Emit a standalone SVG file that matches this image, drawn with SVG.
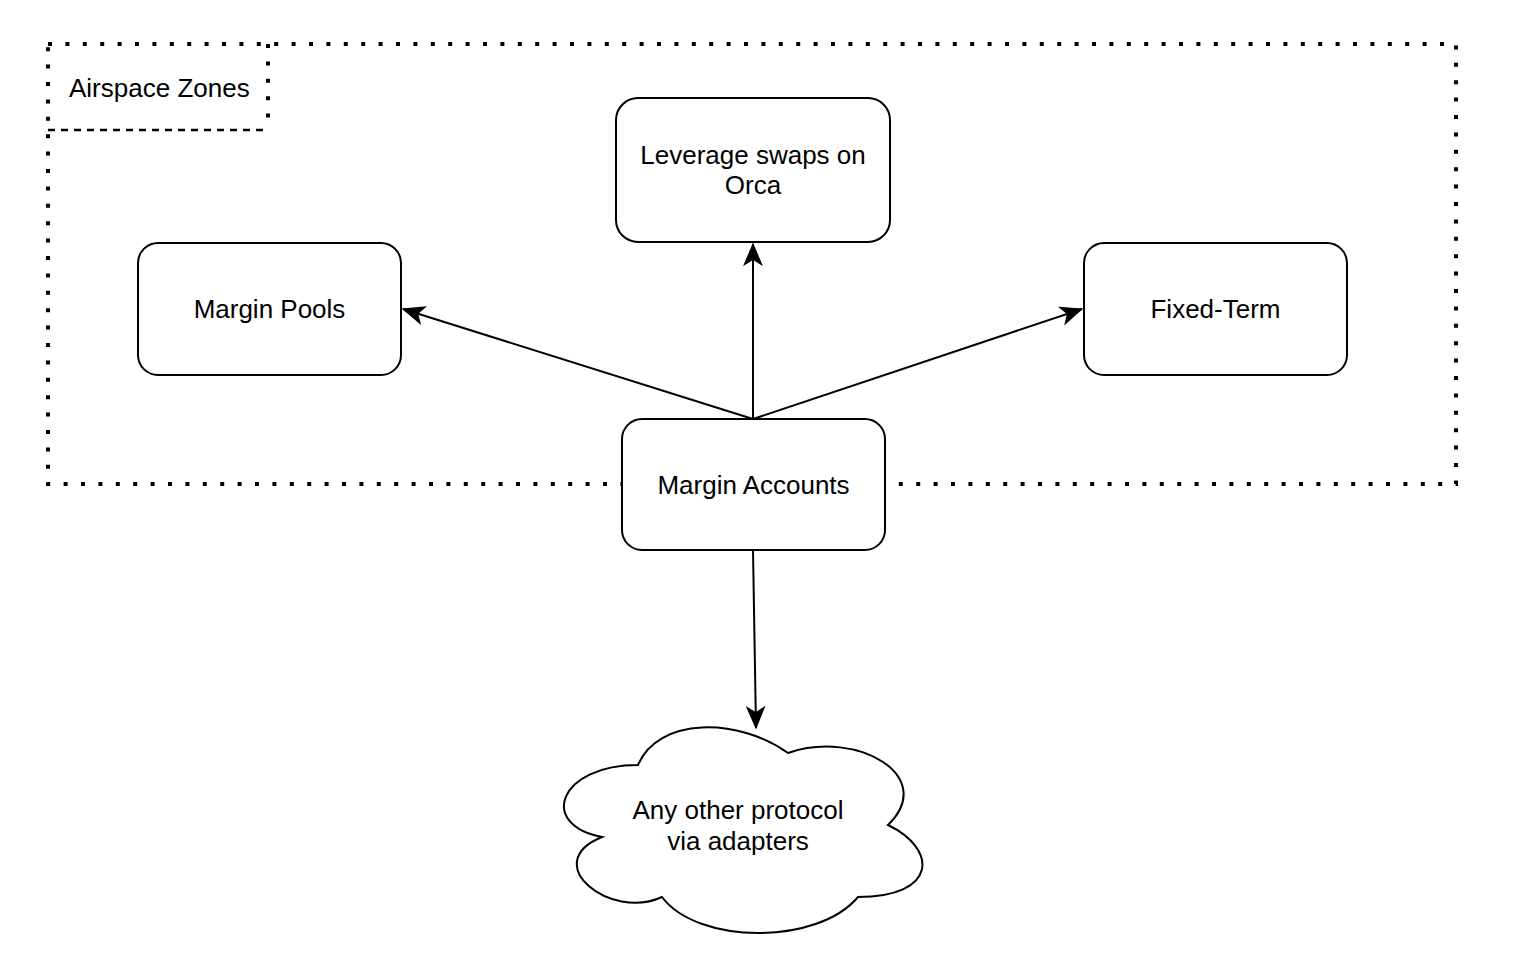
<svg xmlns="http://www.w3.org/2000/svg" width="1522" height="980" viewBox="0 0 1522 980">
<style>
.box{fill:#fff;stroke:#000;stroke-width:2}
.t{font-family:"Liberation Sans",Arial,sans-serif;font-size:26px;fill:#000}
.e{stroke:#000;stroke-width:2;fill:none;marker-end:url(#arr)}
.dot{fill:none;stroke:#000;stroke-width:4;stroke-dasharray:4 13.4}
</style>
<defs>
<marker id="arr" markerUnits="userSpaceOnUse" markerWidth="24" markerHeight="24" viewBox="-20 -10 22 20" refX="0" refY="0" orient="auto">
<path d="M0,0 L-19,-8 L-14,0 L-19,8 Z" fill="#000" stroke="#000" stroke-width="1"/>
</marker>
</defs>
<rect width="1522" height="980" fill="#fff"/>
<g id="airspace-zones">
<rect class="dot" x="48" y="44" width="1408" height="440"/>
<line class="dot" x1="268" y1="44" x2="268" y2="130"/>
<line x1="48" y1="130" x2="268" y2="130" stroke="#000" stroke-width="2.5" stroke-dasharray="7 6"/>
<text class="t" x="69" y="88" dominant-baseline="central">Airspace Zones</text>
</g>
<g id="connectors">
<line class="e" x1="753" y1="419" x2="403" y2="309"/>
<line class="e" x1="753" y1="419" x2="753" y2="244"/>
<line class="e" x1="753" y1="419" x2="1082" y2="309"/>
<line class="e" x1="753" y1="550" x2="756" y2="728"/>
</g>
<g id="leverage-swaps">
<rect class="box" x="616" y="98" width="274" height="144" rx="22"/>
<text class="t" x="753" y="155" text-anchor="middle" dominant-baseline="central">Leverage swaps on</text>
<text class="t" x="753" y="185" text-anchor="middle" dominant-baseline="central">Orca</text>
</g>
<g id="margin-pools">
<rect class="box" x="138" y="243" width="263" height="132" rx="20"/>
<text class="t" x="269.5" y="309" text-anchor="middle" dominant-baseline="central">Margin Pools</text>
</g>
<g id="fixed-term">
<rect class="box" x="1084" y="243" width="263" height="132" rx="20"/>
<text class="t" x="1215.5" y="309" text-anchor="middle" dominant-baseline="central">Fixed-Term</text>
</g>
<g id="margin-accounts">
<rect class="box" x="622" y="419" width="263" height="131" rx="20"/>
<text class="t" x="753.5" y="485" text-anchor="middle" dominant-baseline="central">Margin Accounts</text>
</g>
<g id="other-protocol">
<path class="box" d="M638,765 C558,765 538,825 602,837 C538,863 610,921 662,897 C698,945 818,945 858,897 C938,897 938,849 888,825 C938,777 858,729 788,753 C738,717 658,717 638,765 Z"/>
<text class="t" x="738" y="810" text-anchor="middle" dominant-baseline="central">Any other protocol</text>
<text class="t" x="738" y="841" text-anchor="middle" dominant-baseline="central">via adapters</text>
</g>
</svg>
